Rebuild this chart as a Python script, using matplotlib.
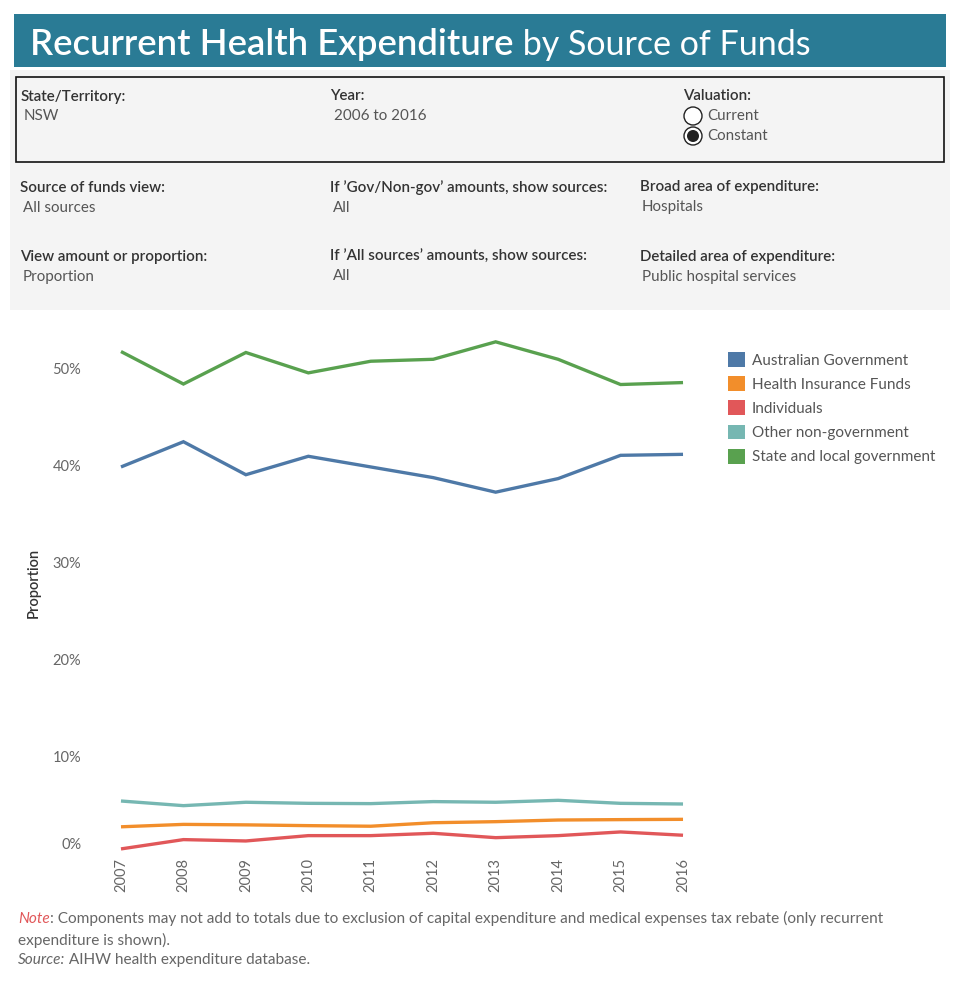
import matplotlib
matplotlib.use("Agg")
import matplotlib.pyplot as plt
from matplotlib.patches import Rectangle, Circle, Patch
from matplotlib.transforms import ScaledTranslation

# ---------------- data ----------------
years = [2007, 2008, 2009, 2010, 2011, 2012, 2013, 2014, 2015, 2016]
series_names = ["Australian Government", "Health Insurance Funds", "Individuals",
                "Other non-government", "State and local government"]
australian_gov = [39.9, 42.5, 39.1, 41.0, 39.9, 38.8, 37.3, 38.7, 41.1, 41.2]
health_ins = [2.8, 3.05, 3.0, 2.92, 2.86, 3.22, 3.33, 3.5, 3.54, 3.57]
individuals = [0.52, 1.48, 1.34, 1.89, 1.89, 2.13, 1.68, 1.89, 2.27, 1.93]
other_nongov = [5.46, 4.98, 5.33, 5.22, 5.19, 5.40, 5.33, 5.53, 5.22, 5.15]
state_local = [51.8, 48.45, 51.7, 49.6, 50.8, 51.0, 52.8, 51.0, 48.4, 48.6]
series_values = [australian_gov, health_ins, individuals, other_nongov, state_local]
colors = ["#4e79a7", "#f28e2b", "#e15759", "#76b7b2", "#59a14f"]
y_ticks = [0, 10, 20, 30, 40, 50]
y_tick_labels = ["0%", "10%", "20%", "30%", "40%", "50%"]

FONT = ["Lato", "DejaVu Sans"]
plt.rcParams["font.family"] = FONT

W, H = 960, 984
fig = plt.figure(figsize=(W / 100, H / 100), dpi=100)

# background / dashboard layer in pixel coordinates
bg = fig.add_axes([0, 0, 1, 1], zorder=0)
bg.set_xlim(0, W)
bg.set_ylim(H, 0)
bg.axis("off")

# title banner
bg.add_patch(Rectangle((14, 14), 932, 53, facecolor="#2a7b95", edgecolor="none"))
t1 = bg.text(30, 55, "Recurrent Health Expenditure", color="white", fontsize=26.3,
             fontweight="semibold", va="baseline", ha="left")
bg.annotate(" by Source of Funds", xy=(1, 0), xycoords=t1, color="white", fontsize=24.5,
            va="bottom", ha="left", fontweight="normal")

# filter panel
bg.add_patch(Rectangle((10, 70), 940, 240, facecolor="#f4f4f4", edgecolor="none"))
bg.add_patch(Rectangle((16, 77), 928, 85, facecolor="#f4f4f4", edgecolor="#111111", lw=1.2))

lab_c = "#333333"
val_c = "#555555"
fs = 10.9
dy = 1.5

def field(x, y, label, value, dx=2):
    bg.text(x, y + dy, label, color=lab_c, fontsize=fs, fontweight="semibold", va="center", ha="left")
    if value:
        bg.text(x + dx, y + 20 + dy, value, color=val_c, fontsize=fs, va="center", ha="left")

field(21, 95, "State/Territory:", "NSW", 3)
field(330, 95, "Year:", "2006 to 2016", 4)
field(683, 95, "Valuation:", None)
field(20, 186, "Source of funds view:", "All sources", 3)
field(330, 186, "If \u2019Gov/Non-gov\u2019 amounts, show sources:", "All", 3)
field(640, 186, "Broad area of expenditure:", "Hospitals", 2)
field(20, 255, "View amount or proportion:", "Proportion", 3)
field(330, 255, "If \u2019All sources\u2019 amounts, show sources:", "All", 3)
field(640, 255, "Detailed area of expenditure:", "Public hospital services", 2)

# radio buttons
bg.add_patch(Circle((693, 116), 9, facecolor="white", edgecolor="#222222", lw=1.0))
bg.add_patch(Circle((693, 136), 9, facecolor="white", edgecolor="#222222", lw=1.0))
bg.add_patch(Circle((693, 136), 6, facecolor="#222222", edgecolor="none"))
bg.text(707, 115 + dy, "Current", color=val_c, fontsize=fs, va="center", ha="left")
bg.text(707, 135 + dy, "Constant", color=val_c, fontsize=fs, va="center", ha="left")

# notes
nfs = 11.1
n1 = bg.text(18, 919, "Note", color="#e15759", fontsize=nfs, style="italic", va="center", ha="left")
bg.annotate(": Components may not add to totals due to exclusion of capital expenditure and medical expenses tax rebate (only recurrent",
            xy=(1, 0), xycoords=n1, color="#666666", fontsize=nfs, va="bottom", ha="left")
bg.text(18, 940, "expenditure is shown).", color="#666666", fontsize=nfs, va="center", ha="left")
n3 = bg.text(18, 960, "Source:", color="#666666", fontsize=nfs, style="italic", va="center", ha="left")
bg.annotate(" AIHW health expenditure database.", xy=(1, 0), xycoords=n3, color="#666666",
            fontsize=nfs, va="bottom", ha="left")

# ---------------- chart ----------------
left, right, top, bottom = 100, 704, 330, 856
ax = fig.add_axes([left / W, 1 - bottom / H, (right - left) / W, (bottom - top) / H], zorder=1)
ax.patch.set_alpha(0)
for name, vals, c in zip(series_names, series_values, colors):
    ax.plot(years, vals, color=c, lw=2.4, label=name, solid_capstyle="butt", solid_joinstyle="miter")

ax.set_xlim(2006.664, 2016.336)
ax.set_ylim(-0.21, 54.02)
ax.set_xticks(years)
ax.set_xticklabels([str(y) for y in years], rotation=90, color="#666666", fontsize=10.5)
ax.set_yticks(y_ticks)
ax.set_yticklabels(y_tick_labels, color="#666666", fontsize=10.5)
ax.tick_params(axis="y", length=0, pad=13.5)
ax.tick_params(axis="x", length=0, pad=1.5)
for s in ax.spines.values():
    s.set_visible(False)
# Tableau shifts the bottom tick label inside the pane
lbl0 = ax.yaxis.get_major_ticks()[0].label1
lbl0.set_transform(lbl0.get_transform() + ScaledTranslation(0, 10 / 100, fig.dpi_scale_trans))

ax.set_ylabel("Proportion", color="#333333", fontsize=10.5, fontweight="semibold")
ax.yaxis.set_label_coords(-0.098, 0.519)

handles = [Patch(facecolor=c, edgecolor="none") for c in colors]
leg = fig.legend(handles, series_names, loc="upper left",
                 bbox_to_anchor=(728 / W, 1 - 352 / H), frameon=False,
                 fontsize=11, handlelength=1.1, handleheight=1.1,
                 handletextpad=0.45, labelspacing=0.57, borderpad=0, borderaxespad=0)
for t in leg.get_texts():
    t.set_color("#555555")

fig.savefig("out.png", dpi=100)
